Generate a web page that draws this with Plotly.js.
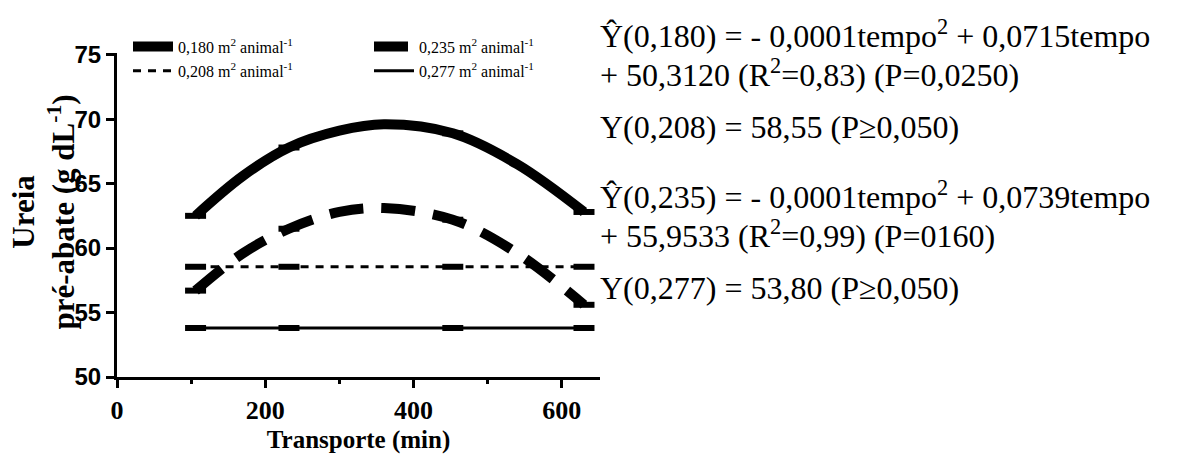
<!DOCTYPE html>
<html>
<head>
<meta charset="utf-8">
<script src="https://cdn.plot.ly/plotly-3.0.1.min.js"></script>
<style>
html,body{margin:0;padding:0;background:#fff;}
#chart{width:1197px;height:454px;}
</style>
</head>
<body>
<div id="chart"></div>
<script>
// ---- data ----
const tempo = [106, 232, 453, 630];                       // marker positions (min)
const tempoCurva = [106, 170, 232, 300, 360, 453, 540, 630];
const ureia180Curva = [62.5, 65.6, 67.8, 69.1, 69.6, 68.9, 66.5, 62.8];
const ureia235Curva = [56.7, 59.6, 61.5, 62.8, 63.1, 62.2, 59.6, 55.6];
const ureia180 = [62.5, 67.8, 68.9, 62.8];
const ureia235 = [56.7, 61.5, 62.2, 55.6];
const ureia208 = [58.55, 58.55, 58.55, 58.55];
const ureia277 = [53.8, 53.8, 53.8, 53.8];
const nomes = ['0,180 m<sup>2</sup> animal<sup>-1</sup>', '0,235 m<sup>2</sup> animal<sup>-1</sup>',
               '0,208 m<sup>2</sup> animal<sup>-1</sup>', '0,277 m<sup>2</sup> animal<sup>-1</sup>'];
const xTicks = [0, 200, 400, 600];
const yTicks = [50, 55, 60, 65, 70, 75];
const equacoes = [
  'Ŷ(0,180) = - 0,0001tempo<sup>2</sup> + 0,0715tempo',
  '+ 50,3120 (R<sup>2</sup>=0,83) (P=0,0250)',
  'Y(0,208) = 58,55 (P≥0,050)',
  'Ŷ(0,235) = - 0,0001tempo<sup>2</sup> + 0,0739tempo',
  '+ 55,9533 (R<sup>2</sup>=0,99) (P=0160)',
  'Y(0,277) = 53,80 (P≥0,050)'
];

// ---- layout geometry (pixels) ----
const W = 1197, H = 454;
const L = 117, R = 600, T = 53.3, B = 376.7;
const pw = R - L, ph = B - T;
const px2x = p => (p - L) / pw;
const py2y = p => (B - p) / ph;
const eqY = [34, 73, 127, 195, 234, 288];

const serif = 'Liberation Serif';
const sans = 'Liberation Sans';

function markerTrace(y) {
  return {x: tempo, y: y, mode: 'markers', type: 'scatter', showlegend: false, hoverinfo: 'skip',
    marker: {symbol: 'line-ew', size: 15, line: {width: 6, color: '#000'}}};
}

const traces = [
  {x: tempoCurva, y: ureia180Curva, name: nomes[0], mode: 'lines', type: 'scatter', legend: 'legend',
   line: {color: '#000', width: 10, shape: 'spline'}},
  {x: tempoCurva, y: ureia235Curva, name: nomes[1], mode: 'lines', type: 'scatter', legend: 'legend2',
   line: {color: '#000', width: 10, shape: 'spline', dash: '34px,18px'}},
  {x: tempo, y: ureia208, name: nomes[2], mode: 'lines', type: 'scatter', legend: 'legend3',
   line: {color: '#000', width: 3, dash: '8px,7px'}},
  {x: tempo, y: ureia277, name: nomes[3], mode: 'lines', type: 'scatter', legend: 'legend4',
   line: {color: '#000', width: 3}},
  markerTrace(ureia180), markerTrace(ureia235), markerTrace(ureia208), markerTrace(ureia277)
];

const annotations = equacoes.map((t, i) => ({
  text: t, xref: 'paper', yref: 'paper', x: px2x(598), y: py2y(eqY[i]),
  xanchor: 'left', yanchor: 'middle', showarrow: false,
  font: {family: serif, size: 32, color: '#000'}
}));
annotations.push({
  text: 'Ureia<br>pré-abate (g dL<sup>-1</sup>)', xref: 'paper', yref: 'paper',
  x: px2x(43.5), y: py2y(212), xanchor: 'center', yanchor: 'middle', textangle: -90, showarrow: false,
  font: {family: serif, size: 31, weight: 'bold', color: '#000'}
});

const legendCommon = {orientation: 'h', xanchor: 'left', yanchor: 'middle', itemwidth: 40,
  bgcolor: 'rgba(0,0,0,0)', font: {family: serif, size: 16, color: '#000'}};

const layout = {
  width: W, height: H,
  margin: {l: L, r: W - R, t: T, b: H - B, pad: 0},
  paper_bgcolor: '#fff', plot_bgcolor: '#fff',
  showlegend: true,
  legend: Object.assign({x: px2x(128), y: py2y(47)}, legendCommon),
  legend2: Object.assign({x: px2x(369), y: py2y(47)}, legendCommon),
  legend3: Object.assign({x: px2x(128), y: py2y(71)}, legendCommon),
  legend4: Object.assign({x: px2x(369), y: py2y(71)}, legendCommon),
  xaxis: {
    range: [0, 651.6], tickvals: xTicks, ticktext: xTicks.map(String),
    ticks: 'outside', ticklen: 8, tickwidth: 3, tickcolor: '#000',
    minor: {dtick: 100, ticks: 'outside', ticklen: 4, tickwidth: 3, tickcolor: '#000'},
    showline: true, linewidth: 3, linecolor: '#000', showgrid: false, zeroline: false,
    tickfont: {family: serif, size: 26, weight: 'bold', color: '#000'},
    title: {text: 'Transporte (min)', font: {family: serif, size: 25, weight: 'bold', color: '#000'}, standoff: 11}
  },
  yaxis: {
    range: [50, 75.13], tickvals: yTicks, ticktext: yTicks.map(String),
    ticks: 'outside', ticklen: 8, tickwidth: 3, tickcolor: '#000',
    showline: true, linewidth: 3, linecolor: '#000', showgrid: false, zeroline: false,
    tickfont: {family: sans, size: 24, weight: 'bold', color: '#000'}
  },
  annotations: annotations
};

Plotly.newPlot('chart', traces, layout, {staticPlot: true, displayModeBar: false});
</script>
</body>
</html>
